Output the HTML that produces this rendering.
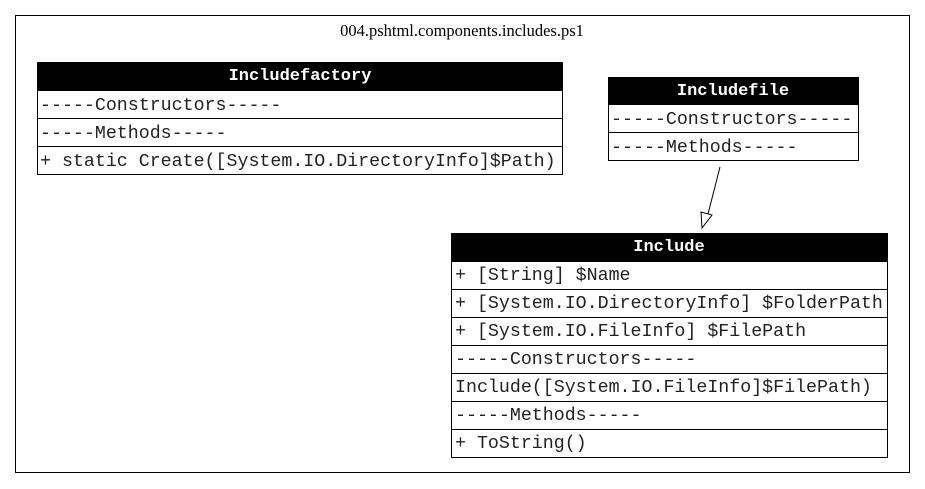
<!DOCTYPE html>
<html><head><meta charset="utf-8"><style>
html,body{margin:0;padding:0;background:#fff;}
svg{display:block}
.m{font-family:"Liberation Mono",monospace;font-size:18.3px;fill:#222}
.h{font-family:"Liberation Mono",monospace;font-size:17px;font-weight:bold;fill:#fff}
</style></head><body>
<svg width="925" height="489" viewBox="0 0 925 489" xmlns="http://www.w3.org/2000/svg">
<rect x="15.5" y="15.5" width="894" height="457" fill="#fff" stroke="#000"/>
<text x="462" y="36" text-anchor="middle" font-family="Liberation Serif,serif" font-size="16.5">004.pshtml.components.includes.ps1</text>

<g stroke="#000" fill="#fff">
<rect x="37.5" y="62.5" width="525" height="112"/>
<rect x="37.5" y="62.5" width="525" height="28" fill="#000"/>
<line x1="37" y1="118.5" x2="562" y2="118.5"/>
<line x1="37" y1="146.5" x2="562" y2="146.5"/>

<rect x="608.5" y="77.5" width="250" height="83"/>
<rect x="608.5" y="77.5" width="250" height="27" fill="#000"/>
<line x1="608" y1="132.5" x2="858" y2="132.5"/>

<rect x="451.5" y="233.5" width="436" height="224"/>
<rect x="451.5" y="233.5" width="436" height="28" fill="#000"/>
<line x1="451" y1="289.5" x2="887" y2="289.5"/>
<line x1="451" y1="317.5" x2="887" y2="317.5"/>
<line x1="451" y1="345.5" x2="887" y2="345.5"/>
<line x1="451" y1="373.5" x2="887" y2="373.5"/>
<line x1="451" y1="401.5" x2="887" y2="401.5"/>
<line x1="451" y1="429.5" x2="887" y2="429.5"/>

<line x1="720" y1="167" x2="708" y2="214"/>
<polygon points="702,228 701,212 712,215" fill="#fff"/>
</g>

<text x="300" y="80" text-anchor="middle" class="h">Includefactory</text>
<text x="40" y="110" class="m">-----Constructors-----</text>
<text x="40" y="138" class="m">-----Methods-----</text>
<text x="40" y="166" class="m">+ static Create([System.IO.DirectoryInfo]$Path)</text>

<text x="733" y="95" text-anchor="middle" class="h">Includefile</text>
<text x="611" y="124" class="m">-----Constructors-----</text>
<text x="611" y="152" class="m">-----Methods-----</text>

<text x="669" y="251" text-anchor="middle" class="h">Include</text>
<text x="455" y="280" class="m">+ [String] $Name</text>
<text x="455" y="308" class="m">+ [System.IO.DirectoryInfo] $FolderPath</text>
<text x="455" y="336" class="m">+ [System.IO.FileInfo] $FilePath</text>
<text x="455" y="364" class="m">-----Constructors-----</text>
<text x="455" y="392" class="m">Include([System.IO.FileInfo]$FilePath)</text>
<text x="455" y="420" class="m">-----Methods-----</text>
<text x="455" y="448" class="m">+ ToString()</text>
</svg>
</body></html>
